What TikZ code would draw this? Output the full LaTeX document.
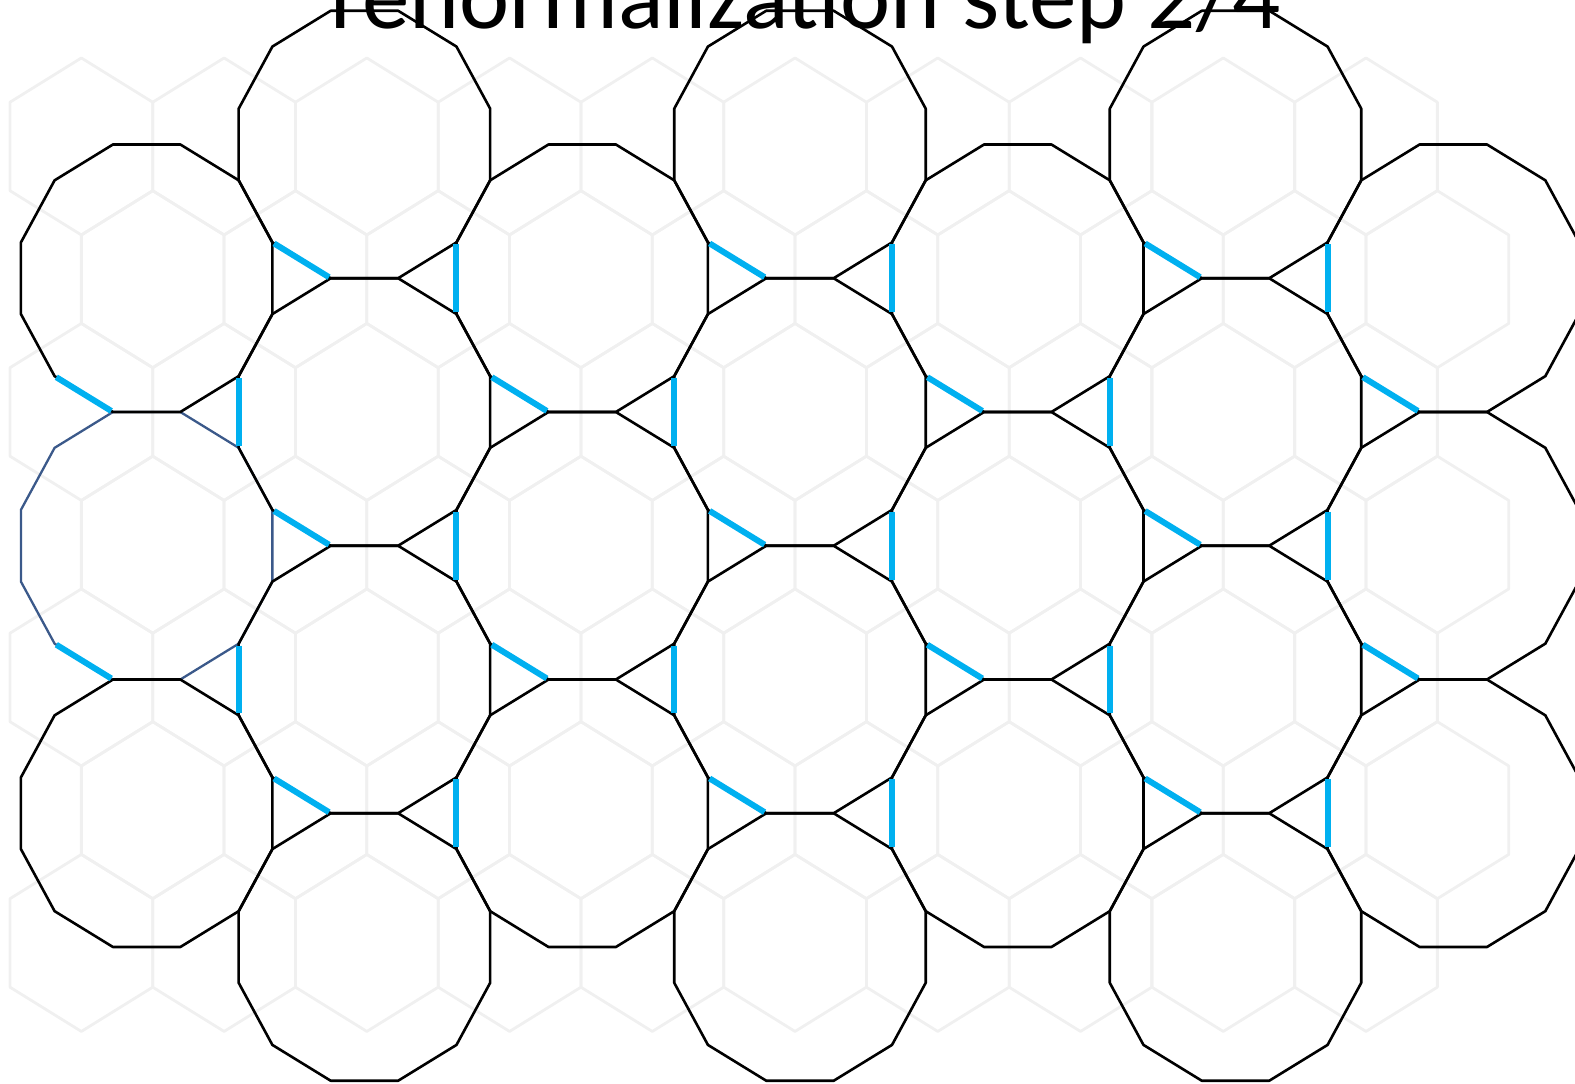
\documentclass[tikz,border=0pt]{standalone}
\usepackage{fontspec}
\setmainfont{Carlito}
\usepackage{xcolor}
\usepackage{tikz}

\definecolor{cellblue}{RGB}{59,89,138}
\definecolor{bondcyan}{RGB}{0,176,240}

% one dodecagon of the coarse tiling, centred at (#1,#2), edge length 1
\newcommand\dodeca[3]{\draw[#3] ({#1},{#2}) +(15:1.9319)
  \foreach \a in {45,75,...,345} {-- +(\a:1.9319)} -- cycle;}

\begin{document}
\begin{tikzpicture}[x=1.0045pt,y=-1.0045pt,
  lattice/.style={draw=black!6,line width=2.8pt,line join=round},
  tile/.style={draw=black,line width=2.6pt,line join=round},
  focus/.style={draw=cellblue,line width=2.3pt,line join=round},
  bond/.style={draw=bondcyan,line width=6pt,shorten <=2pt,shorten >=2pt}
]
\useasboundingbox (0,0) rectangle (1568,1079);

% fine honeycomb in the background
\begin{scope}[shift={(81,145.8)},x=71.37pt,y=-44.25pt]
  \foreach \r in {0,...,6}
    \foreach \c in {0,...,9}
      \draw[lattice] ({2*\c+mod(\r,2)},{3*\r}) +(0,-2) -- +(1,-1) -- +(1,1)
        -- +(0,2) -- +(-1,1) -- +(-1,-1) -- cycle;
\end{scope}

% coarse tiling: dodecagons, the triangles are left between them
\begin{scope}[shift={(146,277)},x=67.38pt,y=-71.68pt]
  \dodeca{0}{3.732}{focus}
  \foreach \i/\k in {0/0,0/4,2/0,2/2,2/4,4/0,4/2,4/4,6/0,6/2,6/4,
      1/-1,1/1,1/3,1/5,3/-1,3/1,3/3,3/5,5/-1,5/1,5/3,5/5}
    {\dodeca{3.2321*\i}{1.866*\k}{tile}}
  % bonds taken out in this step
  \foreach \i/\k in {0/0,0/2,2/0,2/2,4/0,4/2,6/0,6/2,
      1/-1,1/1,1/3,3/-1,3/1,3/3,5/-1,5/1,5/3}{
    \draw[bond] ({3.2321*\i},{1.866*(\k+1)}) +(-1.366,-0.5) -- +(-0.5,0);
    \ifnum\i<6
      \draw[bond] ({3.2321*\i},{1.866*(\k+1)}) +(1.366,-0.5) -- +(1.366,0.5);
    \fi
  }
\end{scope}

\node[font=\fontsize{95}{100}\selectfont,anchor=base] (title) at (802,28)
  {renormalization step 2/4};
\end{tikzpicture}
\end{document}
